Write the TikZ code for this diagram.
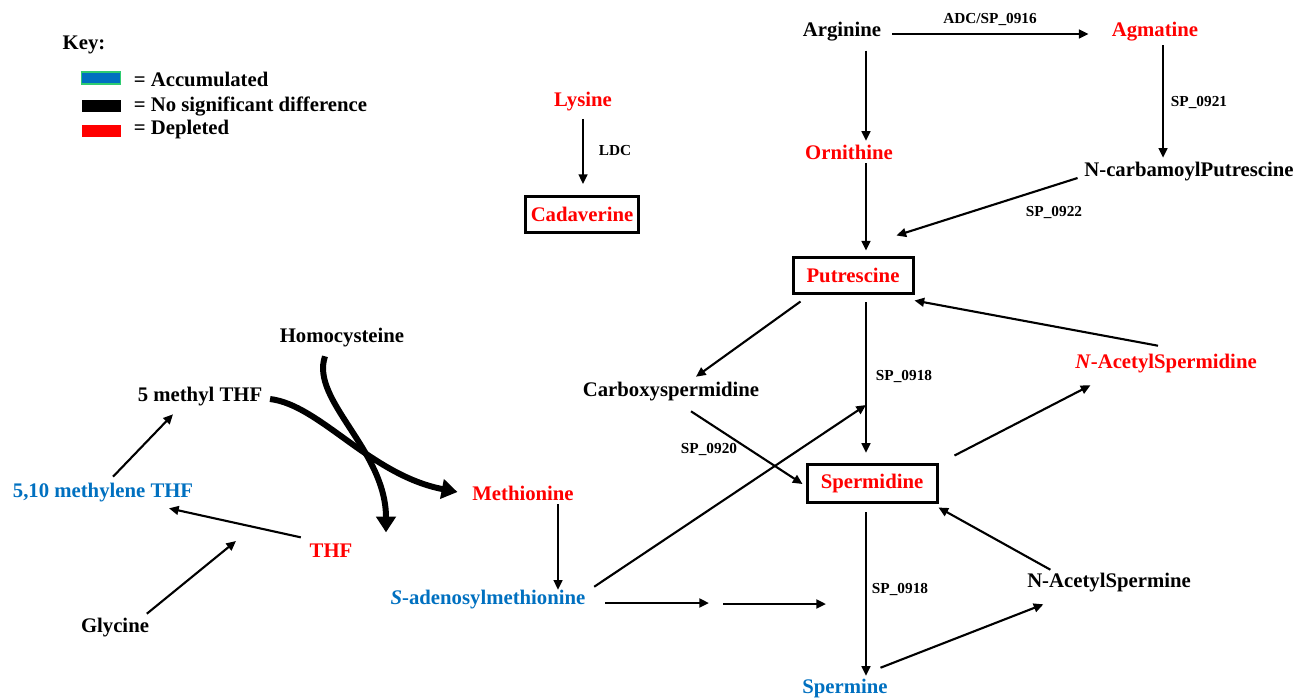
\documentclass[tikz,border=0pt]{standalone}
\usepackage{fontspec}
\setmainfont{Liberation Serif}
\usepackage{xcolor}
\usetikzlibrary{arrows, arrows.meta, positioning, calc}
\definecolor{accblue}{HTML}{0070C0}
\definecolor{accgreen}{HTML}{2ECC71}
\definecolor{deplred}{HTML}{FF0000}
\tikzstyle{met} = [font=\bfseries\fontsize{11.8}{13}\selectfont, inner sep=2pt]
\tikzstyle{enz} = [font=\bfseries\fontsize{8.7}{10}\selectfont, inner sep=1pt]
\tikzstyle{pool} = [met, draw, line width=1.7pt, minimum height=36*0.02cm]
\tikzstyle{swatch} = [minimum width=39*0.02cm, minimum height=12*0.02cm, inner sep=0pt]
\tikzstyle{arrow} = [line width=1.2pt,->,>={Triangle[length=5.5pt,width=5pt]}]
\tikzstyle{fat} = [line width=3.4pt, -{Triangle[length=9pt,width=11pt]}]

\begin{document}
\begin{tikzpicture}[x=0.02cm, y=-0.02cm]
    \useasboundingbox (0,0) rectangle (1311,698);

    % Key
    \node[met] (key) at (84,45) {Key:};
    \node[swatch, fill=accblue, draw=accgreen, line width=0.8pt] (swacc) at (101,78) {};
    \node[swatch, fill=black] (swnsd) at (101,106) {};
    \node[swatch, fill=deplred] (swdep) at (101,131) {};
    \node[met, anchor=west] at (130,79) {= Accumulated};
    \node[met, anchor=west] at (130,106) {= No significant difference};
    \node[met, anchor=west] at (130,130) {= Depleted};

    % Lysine branch
    \node[met, text=deplred] (lys) at (583,102) {Lysine};
    \node[pool, text=deplred, minimum width=113*0.02cm] (cad) at (582,214) {Cadaverine};
    \node[enz] at (615,151) {LDC};
    \draw[arrow, shorten <=2pt, shorten >=6pt] (lys) -- (lys |- cad.north);

    % Arginine / ornithine / agmatine
    \coordinate (spine) at (866,0);
    \coordinate (agmx) at (1163,0);
    \node[met] (arg) at (842,32) {Arginine};
    \node[met, text=deplred] (agm) at (1155,32) {Agmatine};
    \node[met, text=deplred] (orn) at (849,152) {Ornithine};
    \node[met] (ncp) at (1189,172) {N-carbamoylPutrescine};
    \node[pool, text=deplred, minimum width=120*0.02cm] (put) at (853,275) {Putrescine};
    \node[enz] at (990,19) {ADC/SP\_0916};
    \node[enz] at (1199,102) {SP\_0921};
    \node[enz] at (1054,212) {SP\_0922};

    \draw[arrow, shorten <=4pt, shorten >=11pt] ($(arg.east)+(0,2)$) -- ($(agm.west)+(0,2)$);
    \draw[arrow, shorten <=3pt] (arg.south -| spine) -- (orn.north -| spine);
    \draw[arrow] (orn.south -| spine) -- ($(put.north -| spine)+(0,-5)$);
    \draw[arrow] (agm.south -| agmx) -- ($(ncp.north -| agmx)+(0,-1)$);
    \draw[arrow] ($(ncp.west)+(-3,6)$) -- ($(put.north east)+(-18,-20)$);

    % Spermidine block
    \node[met] (carb) at (671,392) {Carboxyspermidine};
    \node[pool, text=deplred, minimum width=130*0.02cm, minimum height=38*0.02cm] (spd) at (872,483) {Spermidine};
    \node[met, text=deplred] (nas) at (1166,364) {\textit{N}-AcetylSpermidine};
    \node[met] (nasm) at (1109,583) {N-AcetylSpermine};
    \node[met, text=accblue] (spm) at (845,688) {Spermine};
    \node[enz] at (904,376) {SP\_0918};
    \node[enz] at (709,449) {SP\_0920};
    \node[enz] at (900,589) {SP\_0918};
    \coordinate (spdin) at (866,405);

    \draw[arrow] ($(put.south west)+(9,7)$) -- ($(carb.north)+(25,-2)$);
    \draw[arrow, shorten <=4.5pt, shorten >=5.5pt] (put.south -| spine) -- (spd.north -| spine);
    \draw[arrow] ($(nas.north)+(-8,-5)$) -- ($(put.south east)+(0,6)$);
    \draw[arrow] ($(spd.north east)+(16,-7)$) -- ($(nas.south west)+(19,8)$);
    \draw[arrow] ($(carb.south)+(20,6)$) -- ($(spd.west)+(-3,1)$);
    \draw[arrow, shorten <=5pt] (spd.south -| spine) -- ($(spm.north -| spine)+(0,1)$);
    \draw[arrow] ($(spm.north east)+(-11,-7)$) -- ($(nasm.south west)+(20,8)$);
    \draw[arrow] ($(nasm.north west)+(27,0)$) -- ($(spd.south east)+(0,4)$);

    % Methionine / SAM
    \node[met, text=deplred] (met) at (523,493) {Methionine};
    \node[met, text=accblue] (sam) at (488,600) {\textit{S}-adenosylmethionine};
    \coordinate (metx) at ($(met.south)+(35,0)$);
    \coordinate (dcsam) at (716,603);
    \coordinate (spmin) at (826,604);
    \draw[arrow] (metx) -- ($(metx |- sam.north)+(0,3)$);
    \draw[arrow] ($(sam.north east)+(5,0)$) -- (spdin);
    \draw[arrow, line width=1.5pt, shorten <=9pt, shorten >=4pt] (sam.east |- dcsam) -- (dcsam);
    \draw[arrow, line width=1.5pt, shorten <=4pt] ($(dcsam)+(0,1)$) -- (spmin);

    % Folate cycle
    \node[met] (hcy) at (342,338) {Homocysteine};
    \node[met] (mthf) at (200,397) {5 methyl THF};
    \node[met, text=accblue] (mlthf) at (103,493) {5,10 methylene THF};
    \node[met, text=deplred] (thf) at (331,551) {THF};
    \node[met] (gly) at (115,628) {Glycine};
    \coordinate (glyin) at (236,541);

    \draw[arrow] ($(mlthf.north)+(10,-3)$) -- ($(mthf.south)+(-27,4)$);
    \draw[arrow] ($(thf.north west)+(-5,-3)$) -- ($(mlthf.south east)+(-28,2)$);
    \draw[arrow] ($(gly.north east)+(-6,-1)$) -- (glyin);

    \draw[fat] ($(mthf.east)+(4,2)$) .. controls (320,405) and (370,475) .. ($(met.west)+(-11,-1)$);
    \draw[fat] ($(hcy.south)+(-17,5)$) .. controls (310,400) and (386,450) .. ($(thf.north)+(55,-8)$);
\end{tikzpicture}
\end{document}
